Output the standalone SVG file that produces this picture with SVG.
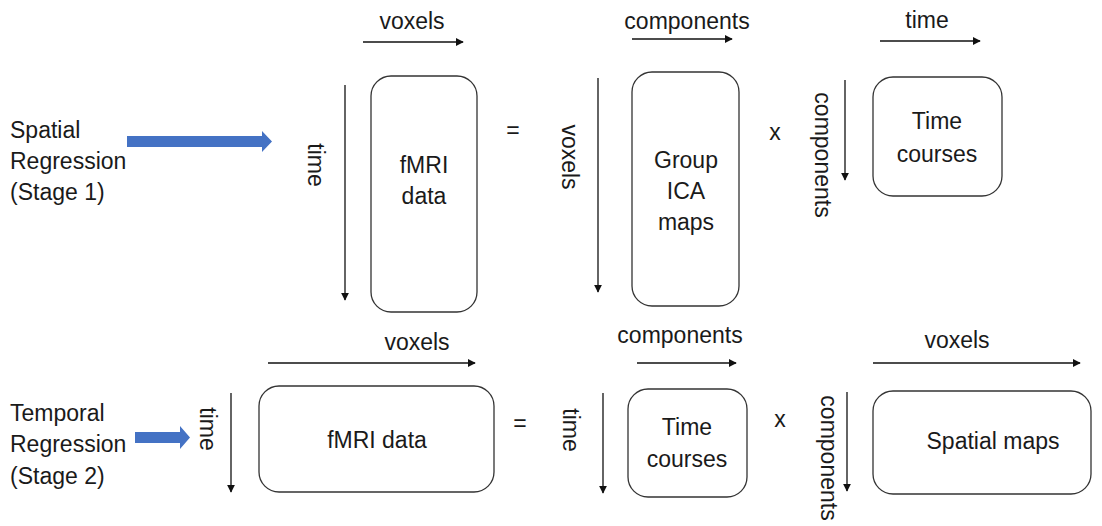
<svg xmlns="http://www.w3.org/2000/svg" width="1102" height="526" viewBox="0 0 1102 526">
<defs>
<marker id="ah" viewBox="0 0 10 10" refX="9" refY="5" markerWidth="8" markerHeight="8" markerUnits="userSpaceOnUse" orient="auto">
<path d="M0,0 L10,5 L0,10 z" fill="#111"/>
</marker>
<style>
text{font-family:"Liberation Sans",Arial,sans-serif;font-size:23px;fill:#1a1a1a}
.m{text-anchor:middle}
.box{fill:#fff;stroke:#333;stroke-width:1.3}
.ax{stroke:#111;stroke-width:1.3;fill:none;marker-end:url(#ah)}
.blue{fill:#4472C4}
</style>
</defs>
<rect width="1102" height="526" fill="#fff"/>

<g id="labels">
<text x="10" y="138">Spatial</text>
<text x="10" y="169">Regression</text>
<text x="10" y="200">(Stage 1)</text>
<text x="10" y="421">Temporal</text>
<text x="10" y="452">Regression</text>
<text x="10" y="484">(Stage 2)</text>
<text class="m" x="513" y="138">=</text>
<text class="m" x="775" y="140">x</text>
<text class="m" x="520" y="431">=</text>
<text class="m" x="780" y="427">x</text>
</g>

<g id="connectors">
<path class="blue" d="M127,136 L262,136 L262,131 L272,141.5 L262,152 L262,147 L127,147 z"/>
<path class="blue" d="M135,432 L180,432 L180,426 L190,437.5 L180,449 L180,443 L135,443 z"/>
<line class="ax" x1="363" y1="42" x2="463" y2="42"/>
<line class="ax" x1="345" y1="85" x2="345" y2="300"/>
<line class="ax" x1="632" y1="39" x2="732" y2="39"/>
<line class="ax" x1="598" y1="78" x2="598" y2="292"/>
<line class="ax" x1="880" y1="41" x2="980" y2="41"/>
<line class="ax" x1="845" y1="80" x2="845" y2="180"/>
<line class="ax" x1="268" y1="363" x2="475" y2="363"/>
<line class="ax" x1="231" y1="393" x2="231" y2="492"/>
<line class="ax" x1="637" y1="363" x2="736" y2="363"/>
<line class="ax" x1="603" y1="393" x2="603" y2="493"/>
<line class="ax" x1="873" y1="363" x2="1080" y2="363"/>
<line class="ax" x1="847" y1="392" x2="847" y2="491"/>
</g>

<g id="axis-labels">
<text class="m" x="412" y="29">voxels</text>
<text class="m" transform="translate(315,165) rotate(90)" x="0" y="7">time</text>
<text class="m" x="687" y="29">components</text>
<text class="m" transform="translate(568,157) rotate(90)" x="0" y="6">voxels</text>
<text class="m" x="927" y="28">time</text>
<text class="m" transform="translate(821,155) rotate(90)" x="0" y="6">components</text>
<text class="m" x="417" y="350">voxels</text>
<text class="m" transform="translate(207,429) rotate(90)" x="0" y="7">time</text>
<text class="m" x="680" y="343">components</text>
<text class="m" transform="translate(570,430) rotate(90)" x="0" y="7">time</text>
<text class="m" x="957" y="348">voxels</text>
<text class="m" transform="translate(827,458) rotate(90)" x="0" y="6">components</text>
</g>

<g id="fmri1">
<rect class="box" x="371" y="76" width="106" height="236" rx="20"/>
<text class="m" x="424" y="173">fMRI</text>
<text class="m" x="424" y="204">data</text>
</g>
<g id="ica1">
<rect class="box" x="632" y="72" width="107" height="234" rx="20"/>
<text class="m" x="686" y="168">Group</text>
<text class="m" x="686" y="199">ICA</text>
<text class="m" x="686" y="230">maps</text>
</g>
<g id="tc1">
<rect class="box" x="873" y="77" width="129" height="119" rx="20"/>
<text class="m" x="937" y="129">Time</text>
<text class="m" x="937" y="162">courses</text>
</g>
<g id="fmri2">
<rect class="box" x="259" y="386" width="235" height="106" rx="20"/>
<text class="m" x="377" y="448">fMRI data</text>
</g>
<g id="tc2">
<rect class="box" x="628" y="389" width="119" height="108" rx="20"/>
<text class="m" x="687" y="435">Time</text>
<text class="m" x="687" y="467">courses</text>
</g>
<g id="sm2">
<rect class="box" x="873" y="391" width="218" height="103" rx="20"/>
<text class="m" x="993" y="449">Spatial maps</text>
</g>
</svg>
